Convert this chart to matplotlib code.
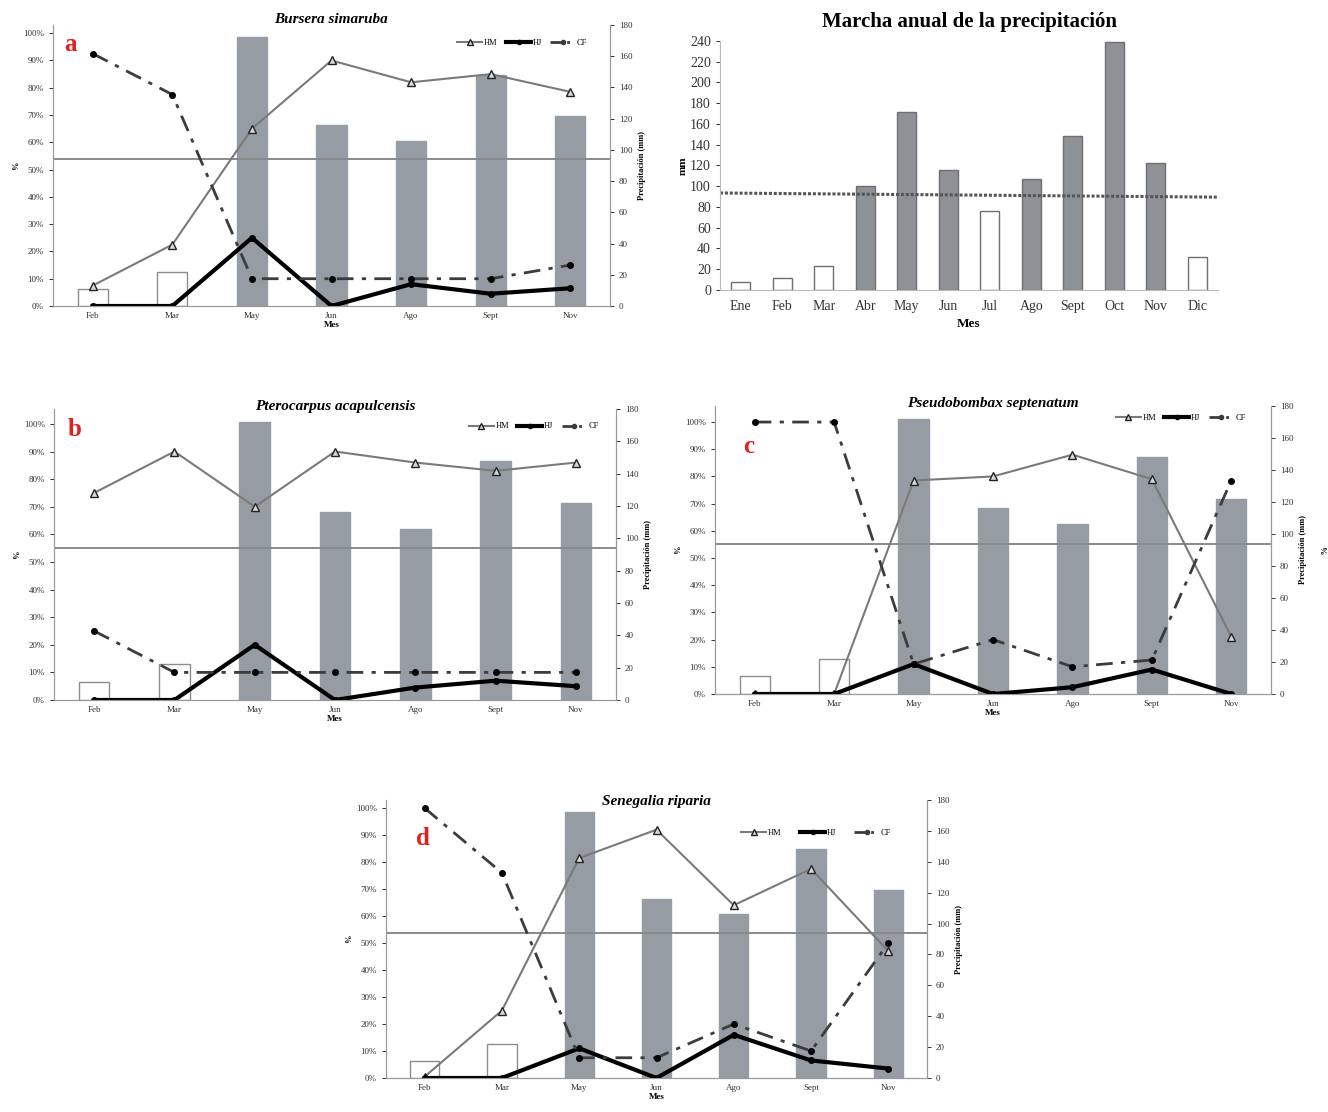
import numpy as np
import matplotlib
matplotlib.use('Agg')
import matplotlib.pyplot as plt
from matplotlib.lines import Line2D

plt.rcParams['font.family'] = ['Liberation Serif', 'DejaVu Serif']

# DATA
meses = ['Feb', 'Mar', 'May', 'Jun', 'Ago', 'Sept', 'Nov']
precip = [11, 22, 172, 116, 106, 148, 122]
meses_secos = ['Feb', 'Mar']
umbral = 94

hm_a = [0.075, 0.225, 0.65, 0.90, 0.82, 0.85, 0.785]
hj_a = [0.0, 0.0, 0.25, 0.0, 0.08, 0.045, 0.065]
cf_a = [0.925, 0.775, 0.10, 0.10, 0.10, 0.10, 0.15]

hm_b = [0.75, 0.90, 0.70, 0.90, 0.86, 0.83, 0.86]
hj_b = [0.0, 0.0, 0.20, 0.0, 0.045, 0.07, 0.05]
cf_b = [0.25, 0.10, 0.10, 0.10, 0.10, 0.10, 0.10]

hm_c = [0.0, 0.0, 0.785, 0.80, 0.88, 0.79, 0.21]
hj_c = [0.0, 0.0, 0.11, 0.0, 0.025, 0.09, 0.0]
cf_c = [1.0, 1.0, 0.11, 0.20, 0.10, 0.125, 0.785]

hm_d = [0.005, 0.25, 0.815, 0.92, 0.64, 0.775, 0.47]
hj_d = [0.0, 0.0, 0.11, 0.0, 0.16, 0.065, 0.035]
cf_d = [1.0, 0.76, 0.075, 0.075, 0.20, 0.10, 0.50]

meses_anual = ['Ene', 'Feb', 'Mar', 'Abr', 'May', 'Jun', 'Jul', 'Ago', 'Sept', 'Oct', 'Nov', 'Dic']
precip_anual = [8, 12, 23, 100, 172, 116, 76, 107, 148, 239, 122, 32]
secos_anual = ['Ene', 'Feb', 'Mar', 'Jul', 'Dic']
media_anual = [93.5, 89.5]

# STYLE
W, H = 1328, 1112
GRIS_BAR = '#959ca3'
GRIS_EJE = '#9a9a9a'

fig = plt.figure(figsize=(W / 100, H / 100), dpi=100)


def rect(x0, x1, ytop, ybot):
    return [x0 / W, 1 - ybot / H, (x1 - x0) / W, (ybot - ytop) / H]


def panel(r, titulo, letra, hm, hj, cf, ytop_pct, letra_pos, ty, leg_pos, leg_sep=1.0):
    ax = fig.add_axes(r)
    axr = ax.twinx()
    ax.set_zorder(axr.get_zorder() + 1)
    ax.patch.set_visible(False)

    x = np.arange(len(meses))
    colores = ['white' if m in meses_secos else GRIS_BAR for m in meses]
    bordes = ['#8c8c8c' if m in meses_secos else GRIS_BAR for m in meses]
    axr.bar(x, precip, width=0.38, color=colores, edgecolor=bordes, linewidth=1.0)
    axr.axhline(umbral, color='#8a8a8a', lw=1.4)
    axr.set_ylim(0, 180)
    axr.set_yticks(np.arange(0, 181, 20))
    axr.set_ylabel('Precipitación (mm)', fontsize=6, fontweight='bold', labelpad=4)

    ax.plot(x, hm, color='#7a7a7a', lw=1.5, marker='^', ms=6,
            mfc='#d8d8d8', mec='#222222', mew=1.0, label='HM')
    ax.plot(x, hj, color='black', lw=3.0, marker='o', ms=4, label='HJ')
    ax.plot(x, cf, color='#3c3c3c', lw=2.0, ls=(0, (6, 3, 1.5, 3)), marker='o', ms=4,
            mfc='black', mec='black', label='CF')
    ax.set_xlim(-0.5, len(meses) - 0.5)
    ax.set_ylim(0, ytop_pct)
    ax.set_yticks(np.arange(0, 1.01, 0.1))
    ax.set_yticklabels([f'{int(round(v * 100))}%' for v in np.arange(0, 1.01, 0.1)])
    ax.set_xticks(x)
    ax.set_xticklabels(meses)
    ax.set_ylabel('%', fontsize=6, fontweight='bold', labelpad=2)
    ax.set_xlabel('Mes', fontsize=6.5, fontweight='bold', labelpad=1)
    ax.text(0.5, ty, titulo, transform=ax.transAxes, ha='center', va='center',
            fontsize=11, fontweight='bold', style='italic')

    for a in (ax, axr):
        a.tick_params(labelsize=6.5, colors='#333333', length=3, width=0.7)
        for s in a.spines.values():
            s.set_color(GRIS_EJE)
        a.spines['top'].set_visible(False)
    ax.tick_params(axis='x', length=0, pad=4)

    ax.text(letra_pos[0], letra_pos[1], letra, transform=ax.transAxes, color='#e02020',
            fontsize=18, fontweight='bold', va='center', ha='left')

    handles = [Line2D([], [], color='#7a7a7a', lw=1.5, marker='^', ms=4, mfc='#d8d8d8', mec='#222222'),
               Line2D([], [], color='black', lw=3.0, marker='o', ms=3),
               Line2D([], [], color='#3c3c3c', lw=2.0, ls=(0, (4, 2, 1, 2)), marker='o', ms=3)]
    ax.legend(handles, ['HM', 'HJ', 'CF'], loc='center right', bbox_to_anchor=leg_pos,
              ncol=3, fontsize=6, frameon=False, handlelength=3.0, columnspacing=leg_sep,
              handletextpad=0.2, borderaxespad=0)
    return ax, axr


# PANELS
panel(rect(53, 610, 25, 306), 'Bursera simaruba', 'a', hm_a, hj_a, cf_a, 1.03,
      (0.02, 0.93), 1.018, (0.965, 0.935))
panel(rect(54, 616, 409, 700), 'Pterocarpus acapulcensis', 'b', hm_b, hj_b, cf_b, 1.054,
      (0.025, 0.93), 1.007, (0.975, 0.94))
panel(rect(715, 1271, 406, 694), 'Pseudobombax septenatum', 'c', hm_c, hj_c, cf_c, 1.059,
      (0.05, 0.86), 1.007, (0.96, 0.96))
panel(rect(386, 927, 800, 1078), 'Senegalia riparia', 'd', hm_d, hj_d, cf_d, 1.03,
      (0.055, 0.86), 0.996, (0.94, 0.88), 2.2)
fig.text(1321 / W, 1 - 550 / H, '%', fontsize=6, fontweight='bold', rotation=270, ha='center', va='center')

# ANNUAL PRECIPITATION
axa = fig.add_axes(rect(720, 1218, 41, 290))
xa = np.arange(len(meses_anual))
col_a = ['white' if m in secos_anual else '#8e9296' for m in meses_anual]
axa.bar(xa, precip_anual, width=0.45, color=col_a, edgecolor='#6f6f6f', linewidth=1.0)
axa.plot([-0.5, len(meses_anual) - 0.5], media_anual, color='#555555', lw=2.2, ls=(0, (1, 0.6)))
axa.set_xlim(-0.5, len(meses_anual) - 0.5)
axa.set_ylim(0, 240)
axa.set_yticks(np.arange(0, 241, 20))
axa.set_xticks(xa)
axa.set_xticklabels(meses_anual)
axa.tick_params(labelsize=10, colors='#333333', length=3, width=0.7)
axa.tick_params(axis='x', length=0, pad=7)
axa.set_ylabel('mm', fontsize=8, fontweight='bold', labelpad=2)
axa.set_xlabel('Mes', fontsize=9.5, fontweight='bold', labelpad=4)
axa.set_title('Marcha anual de la precipitación', fontsize=15, fontweight='bold', pad=10)
for s in ('top', 'right'):
    axa.spines[s].set_visible(False)
for s in ('left', 'bottom'):
    axa.spines[s].set_color('#bbbbbb')

fig.savefig('out.png', dpi=100)
